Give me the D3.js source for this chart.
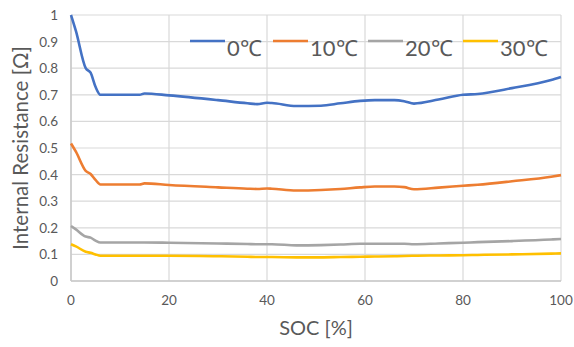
<!DOCTYPE html>
<html>
<head>
<meta charset="utf-8">
<script src="https://cdn.jsdelivr.net/npm/d3@7"></script>
<style>
  body { margin: 0; background: #fff; }
  svg { display: block; font-family: Lato, "Open Sans", sans-serif; }
</style>
</head>
<body>
<svg id="chart"></svg>
<script>
var soc = [0, 1, 3, 4, 5, 6, 10, 14, 15, 20, 30, 36, 38, 40, 41, 46, 51, 55, 59, 62, 66, 68, 70, 75, 80, 83, 90, 98, 100];

var r0 = [1.0, 0.94, 0.80, 0.783, 0.73, 0.70, 0.70, 0.70, 0.705, 0.698, 0.68, 0.668, 0.665, 0.67, 0.669, 0.658, 0.659, 0.668, 0.677, 0.68, 0.68, 0.676, 0.667, 0.682, 0.70, 0.703, 0.725, 0.756, 0.767];
var r10 = [0.517, 0.486, 0.414, 0.402, 0.38, 0.363, 0.363, 0.363, 0.367, 0.361, 0.352, 0.347, 0.346, 0.348, 0.347, 0.34, 0.342, 0.346, 0.352, 0.355, 0.355, 0.353, 0.345, 0.351, 0.358, 0.362, 0.375, 0.392, 0.398];
var r20 = [0.207, 0.194, 0.167, 0.163, 0.152, 0.145, 0.145, 0.145, 0.145, 0.144, 0.141, 0.139, 0.138, 0.138, 0.138, 0.134, 0.135, 0.137, 0.14, 0.14, 0.14, 0.14, 0.138, 0.141, 0.144, 0.146, 0.15, 0.156, 0.158];
var r30 = [0.138, 0.13, 0.11, 0.106, 0.1, 0.095, 0.095, 0.095, 0.095, 0.095, 0.093, 0.091, 0.09, 0.09, 0.09, 0.089, 0.089, 0.09, 0.091, 0.092, 0.093, 0.094, 0.095, 0.096, 0.097, 0.098, 0.1, 0.103, 0.104];

var seriesNames = ["0\u2103", "10\u2103", "20\u2103", "30\u2103"];
var colors = ["#4472C4", "#ED7D31", "#A5A5A5", "#FFC000"];
var xTicks = [0, 20, 40, 60, 80, 100];
var yTicks = [0, 0.1, 0.2, 0.3, 0.4, 0.5, 0.6, 0.7, 0.8, 0.9, 1];

var width = 574, height = 347;
var plotLeft = 71, plotRight = 561, plotTop = 15, plotBottom = 281;

var svg = d3.select("#chart").attr("width", width).attr("height", height);

var x = d3.scaleLinear().domain([0, 100]).range([plotLeft, plotRight]);
var y = d3.scaleLinear().domain([0, 1]).range([plotBottom, plotTop]);

// grid
svg.append("g")
  .selectAll("line")
  .data(yTicks)
  .enter().append("line")
  .attr("x1", plotLeft).attr("x2", plotRight)
  .attr("y1", function (d) { return y(d); })
  .attr("y2", function (d) { return y(d); })
  .attr("stroke", "#d9d9d9").attr("stroke-width", 1.2);

svg.append("g")
  .selectAll("line")
  .data(xTicks)
  .enter().append("line")
  .attr("y1", plotTop).attr("y2", plotBottom)
  .attr("x1", function (d) { return x(d); })
  .attr("x2", function (d) { return x(d); })
  .attr("stroke", "#d9d9d9").attr("stroke-width", 1.2);

// axis lines
svg.append("line").attr("x1", plotLeft).attr("x2", plotLeft).attr("y1", plotTop).attr("y2", plotBottom)
  .attr("stroke", "#c8c8c8").attr("stroke-width", 1.5);
svg.append("line").attr("x1", plotLeft).attr("x2", plotRight).attr("y1", plotBottom).attr("y2", plotBottom)
  .attr("stroke", "#c8c8c8").attr("stroke-width", 1.5);

// tick labels
svg.append("g").selectAll("text")
  .data(yTicks).enter().append("text")
  .attr("x", plotLeft - 13)
  .attr("y", function (d) { return y(d) + 5; })
  .attr("text-anchor", "end")
  .attr("fill", "#595959")
  .style("font-size", "13.5px")
  .text(function (d) { return d3.format("~g")(d); });

svg.append("g").selectAll("text")
  .data(xTicks).enter().append("text")
  .attr("x", function (d) { return x(d); })
  .attr("y", plotBottom + 24)
  .attr("text-anchor", "middle")
  .attr("fill", "#595959")
  .style("font-size", "13.5px")
  .text(function (d) { return d; });

// axis titles
svg.append("text")
  .attr("x", (plotLeft + plotRight) / 2)
  .attr("y", 335)
  .attr("text-anchor", "middle")
  .attr("fill", "#595959")
  .style("font-size", "20px")
  .text("SOC [%]");

svg.append("text")
  .attr("transform", "translate(28," + ((plotTop + plotBottom) / 2) + ") rotate(-90)")
  .attr("text-anchor", "middle")
  .attr("fill", "#595959")
  .style("font-size", "20.5px")
  .text("Internal Resistance [\u03A9]");

// lines
var allSeries = [r0, r10, r20, r30];
var line = d3.line()
  .x(function (d, i) { return x(soc[i]); })
  .y(function (d) { return y(d); })
  .curve(d3.curveMonotoneX);

svg.append("g").selectAll("path")
  .data(allSeries.slice().reverse())
  .enter().append("path")
  .attr("d", line)
  .attr("fill", "none")
  .attr("stroke", function (d, i) { return colors[3 - i]; })
  .attr("stroke-width", 2.6)
  .attr("stroke-linejoin", "round");

// legend
var legendX = [190, 273, 368, 463];
var legende = svg.selectAll(".legend")
  .data(seriesNames).enter().append("g")
  .attr("class", "legend")
  .attr("transform", function (d, i) { return "translate(" + legendX[i] + ",41)"; });

legende.append("line")
  .attr("x1", 0).attr("x2", 35).attr("y1", 0).attr("y2", 0)
  .attr("stroke", function (d, i) { return colors[i]; })
  .attr("stroke-width", 2.6);

legende.append("text")
  .attr("x", 37).attr("y", 15)
  .attr("fill", "#595959")
  .style("font-size", "22px")
  .text(function (d) { return d; });
</script>
</body>
</html>
